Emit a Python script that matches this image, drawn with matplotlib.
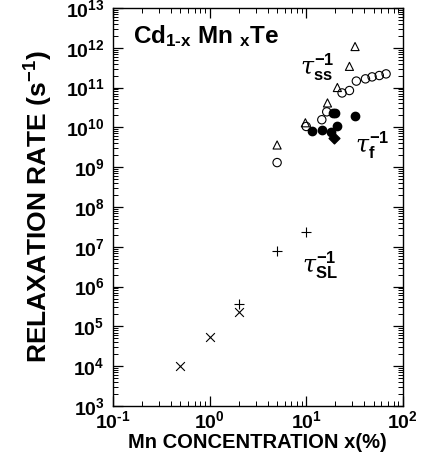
import numpy as np
import matplotlib
matplotlib.use("Agg")
import matplotlib.pyplot as plt
from matplotlib.ticker import LogLocator, FuncFormatter, NullFormatter

plt.rcParams['font.family'] = ['Liberation Sans', 'DejaVu Sans']
plt.rcParams['font.weight'] = 'bold'
plt.rcParams['mathtext.fontset'] = 'custom'
plt.rcParams['mathtext.rm'] = 'Liberation Sans:bold'
plt.rcParams['mathtext.bf'] = 'Liberation Sans:bold'
plt.rcParams['mathtext.it'] = 'DejaVu Serif:style=italic:weight=normal'

# tau_ss^-1 (open triangles)
tri_x = [5, 9.8, 16.6, 21, 28, 32]
tri_y = [3.6e9, 1.3e10, 4.1e10, 1.0e11, 3.4e11, 1.07e12]
# tau_ss^-1 (open circles)
oc_x = [5, 10, 14.5, 16.3, 23.5, 28, 33, 41, 48, 57, 67]
oc_y = [1.3e9, 1.05e10, 1.55e10, 2.45e10, 7.3e10, 8.4e10, 1.45e11, 1.65e11, 1.85e11, 2.0e11, 2.2e11]
# tau_f^-1 (filled circles)
fc_x = [11.5, 14.5, 18.2, 19, 20, 21, 31.7]
fc_y = [8.1e9, 8.6e9, 7.8e9, 2.3e10, 2.3e10, 1.05e10, 1.95e10]
# tau_f^-1 (filled diamond)
fd_x = [19.5]
fd_y = [5.4e9]
# tau_SL^-1 (plus)
pl_x = [2, 5, 10]
pl_y = [3.6e5, 7.6e6, 2.4e7]
# tau_SL^-1 (cross)
cr_x = [0.5, 1, 2]
cr_y = [1.0e4, 5.5e4, 2.3e5]

fig = plt.figure(figsize=(4.21, 4.65), dpi=100)
ax = fig.add_axes([0.268, 0.127, 0.689, 0.856])

ax.scatter(tri_x, tri_y, marker='^', s=34, facecolors='none', edgecolors='black', linewidths=0.8)
ax.scatter(oc_x, oc_y, marker='o', s=36, facecolors='none', edgecolors='black', linewidths=0.8)
ax.scatter(fc_x, fc_y, marker='o', s=36, color='black')
ax.scatter(fd_x, fd_y, marker='D', s=30, color='black')
ax.scatter(pl_x, pl_y, marker='+', s=55, color='black', linewidths=0.8)
ax.scatter(cr_x, cr_y, marker='x', s=40, color='black', linewidths=0.8)

ax.set_xscale('log')
ax.set_yscale('log')
ax.set_xlim(0.1, 100)
ax.set_ylim(1e3, 1e13)

ax.xaxis.set_major_locator(LogLocator(base=10, numticks=10))
ax.yaxis.set_major_locator(LogLocator(base=10, numticks=20))
ax.xaxis.set_minor_locator(LogLocator(base=10, subs=np.arange(2, 10), numticks=20))
ax.yaxis.set_minor_locator(LogLocator(base=10, subs=np.arange(2, 10), numticks=30))
ax.xaxis.set_minor_formatter(NullFormatter())
ax.yaxis.set_minor_formatter(NullFormatter())
fmt = FuncFormatter(lambda v, p: r'$\mathbf{10^{%s}}$' % str(round(np.log10(v))).replace('-', r'\text{-}'))
ax.xaxis.set_major_formatter(fmt)
ax.yaxis.set_major_formatter(fmt)

ax.tick_params(which='both', direction='in', top=True, right=True, labelsize=14)
ax.tick_params(which='major', length=7, width=0.9)
ax.tick_params(which='minor', length=3.5, width=0.7)
ax.tick_params(axis='x', pad=3)
ax.tick_params(axis='y', pad=6)
for s in ax.spines.values():
    s.set_linewidth(1.0)

ax.set_xlabel('Mn CONCENTRATION x(%)', fontsize=14.5, fontweight='bold')
ax.xaxis.set_label_coords(0.5, -0.069)
ax.set_ylabel(r'RELAXATION RATE (s$^{\mathbf{-1}}$)', fontsize=19, fontweight='bold', labelpad=8)

ax.text(0.07, 0.93, r'Cd$_{\mathbf{1\text{-}x}}$ Mn $_{\mathbf{x}}$Te', transform=ax.transAxes,
        fontsize=17.5, fontweight='bold', va='center')
ax.text(8.6, 3.3e11, r'$\tau^{\mathbf{-1}}_{\mathbf{ss}}$', fontsize=17, va='center')
ax.text(31.6, 3.6e9, r'$\tau^{\mathbf{-1}}_{\mathbf{f}}$', fontsize=17, va='center')
ax.text(9.0, 3.5e6, r'$\tau^{\mathbf{-1}}_{\mathbf{SL}}$', fontsize=17, va='center')

fig.savefig('out.png', dpi=100)
